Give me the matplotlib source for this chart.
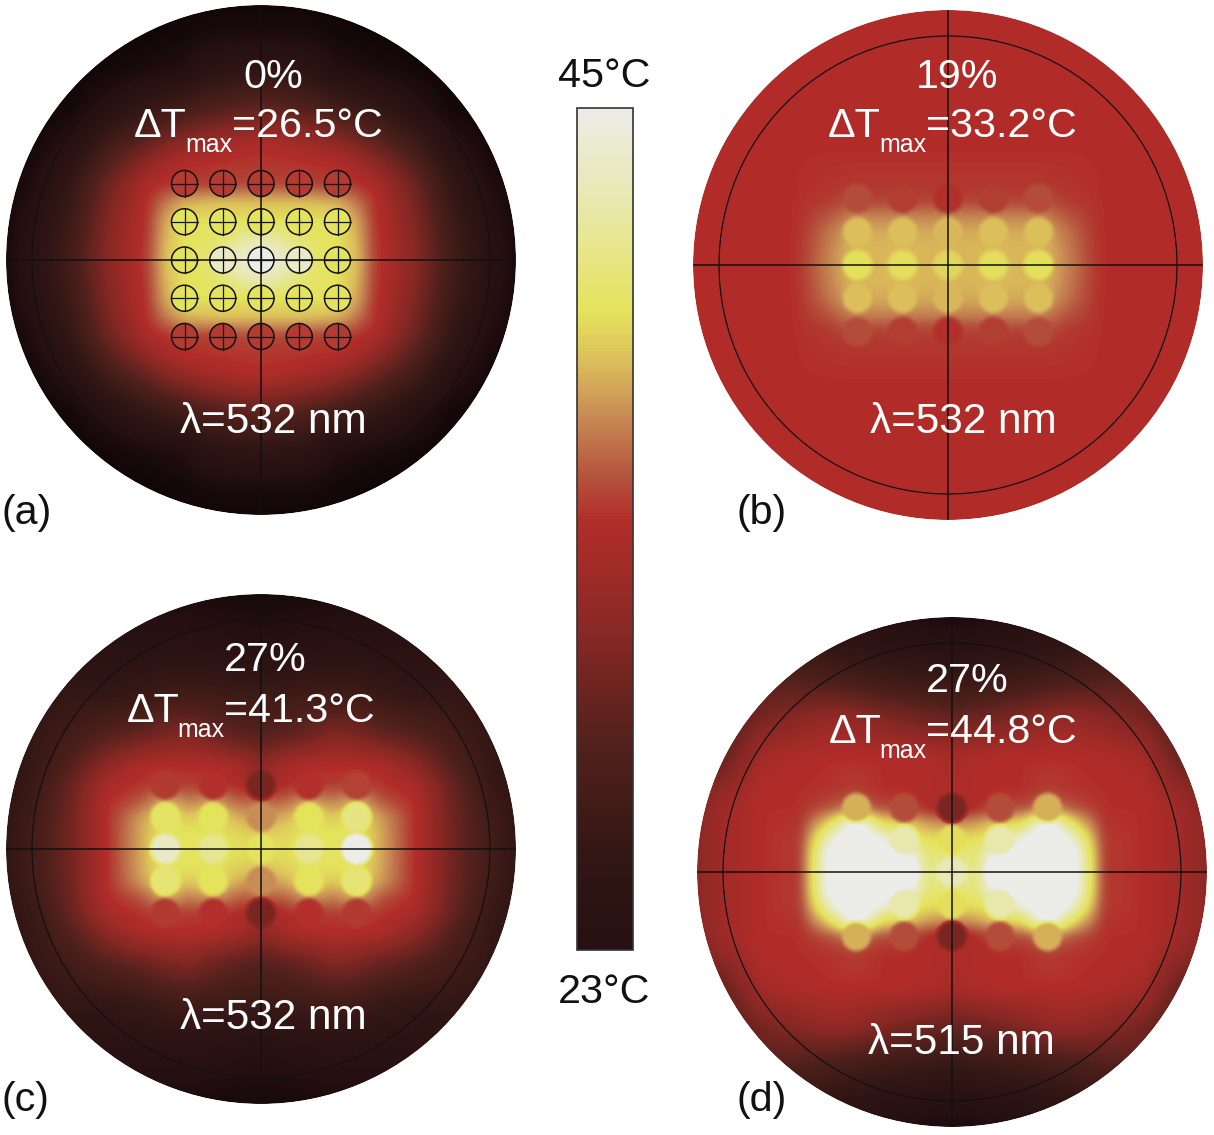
import numpy as np
import matplotlib
matplotlib.use('Agg')
import matplotlib.pyplot as plt
from matplotlib.cm import ScalarMappable
from matplotlib.colors import LinearSegmentedColormap, Normalize
from matplotlib.patches import Circle

W, H = 1214, 1135
plt.rcParams['font.family'] = ['Liberation Sans', 'DejaVu Sans']

# colour scale, the rims of the discs go a bit below the bar minimum
t_low = 21
t_min = 23
t_max = 45
scale_temps = [21, 23, 25.2, 28.35, 31.25, 34.2, 35.3, 37, 38.4, 39.7, 42.4, 45]
scale_colors = ['#0f0505', '#261012', '#301614', '#52211c', '#872824', '#b22d2a', '#b4503c',
                '#c88c55', '#dcbe5a', '#e4e35c', '#e8e8aa', '#ececE8']

# node positions of one quadrant, in disc radii
nodes_a = [0, .075, .15, .225, .3, .375, .45, .6, .75, .9, 1.05]
nodes_x = [0, .094, .188, .282, .376, .47, .6, .75, .9, 1.05]
nodes_y = [0, .0635, .127, .19, .254, .32, .45, .6, .75, .9, 1.05]

# temperature, one quadrant, rows from the centre line outwards
# the white areas are above the scale maximum, the scale saturates there
field_a = [
    [45, 44.3, 42, 40.2, 39.7, 38.5, 34.8, 31.5, 27, 24, 21],
    [43, 42, 40.5, 39.9, 39.7, 38.2, 34.7, 31.3, 26.8, 23.8, 21],
    [39.7, 39.7, 39.7, 39.7, 39.7, 37.8, 34.5, 31, 26.5, 23.5, 21],
    [38.5, 38.5, 38.5, 38.3, 38, 36.5, 34.3, 30.5, 26, 23, 21],
    [34.9, 34.9, 34.8, 34.7, 34.6, 34.4, 33.6, 29.8, 25.5, 22.5, 21],
    [34.5, 34.5, 34.4, 34.3, 34.2, 33.2, 31.8, 28.5, 24.5, 22, 21],
    [34, 33.8, 33.4, 32.8, 32, 31, 29.6, 27, 23.5, 21.5, 21],
    [29, 28.8, 28.3, 27.8, 27, 26.3, 25.5, 23.5, 21.5, 21, 21],
    [25, 24.9, 24.6, 24, 22.8, 22.5, 22.2, 21.5, 21, 21, 21],
    [22, 22, 22, 21.8, 21.5, 21.3, 21, 21, 21, 21, 21],
    [21, 21, 21, 21, 21, 21, 21, 21, 21, 21, 21],
]
field_b = [
    [38.2, 38.2, 38.4, 38.2, 38.4, 36.8, 34.2, 34.2, 34.2, 34.2],
    [38.2, 38.2, 38.3, 38.2, 38.3, 36.6, 34.2, 34.2, 34.2, 34.2],
    [37.9, 37.9, 38, 37.9, 38, 36.3, 34.2, 34.2, 34.2, 34.2],
    [36.8, 36.8, 36.8, 36.8, 36.8, 35.5, 34.2, 34.2, 34.2, 34.2],
    [35, 34.8, 35, 34.8, 35.2, 34.6, 34.2, 34.2, 34.2, 34.2],
    [34.5, 34.5, 34.5, 34.5, 34.5, 34.4, 34.2, 34.2, 34.2, 34.2],
    [34.2, 34.2, 34.2, 34.2, 34.2, 34.2, 34.2, 34.2, 34.2, 34.2],
    [34.2, 34.2, 34.2, 34.2, 34.2, 34.2, 34.2, 34.2, 34.2, 34.2],
    [34.2, 34.2, 34.2, 34.2, 34.2, 34.2, 34.2, 34.2, 34.2, 34.2],
    [34.2, 34.2, 34.2, 34.2, 34.2, 34.2, 34.2, 34.2, 34.2, 34.2],
    [34.2, 34.2, 34.2, 34.2, 34.2, 34.2, 34.2, 34.2, 34.2, 34.2],
]
field_c = [
    [39.7, 39.5, 40, 39.7, 40.5, 37.8, 34.4, 30, 27, 24.5],
    [38.8, 39.2, 39.7, 39.7, 40, 37.8, 34.4, 30, 27, 24.5],
    [37, 38, 39.7, 38.8, 39.7, 37.5, 34.4, 30, 26.8, 24.5],
    [36, 35.8, 37.5, 36.5, 38, 35.5, 34.2, 29.8, 26.5, 24.5],
    [32.5, 34, 34.6, 34.6, 34.8, 34.4, 33.5, 29.5, 26, 24.3],
    [32, 33.5, 34.2, 34.2, 34.2, 34, 32, 28.5, 25.8, 24.2],
    [28.5, 29, 29.8, 31, 30.5, 29.5, 28.5, 27, 25.5, 24],
    [26.5, 26.6, 26.8, 27, 26.8, 26, 25.5, 25.5, 25, 24],
    [24, 24.2, 24.4, 24.5, 24.5, 24.3, 24.2, 24.2, 24, 23.5],
    [22.5, 22.6, 22.8, 23, 23, 23, 23, 23, 23, 23],
    [21.5, 21.5, 21.5, 21.5, 21.5, 21.5, 21.5, 22, 22, 22],
]
field_d = [
    [43, 41, 48, 50, 50, 47, 34.6, 34.2, 33, 31],
    [41, 40.5, 47, 49, 50, 47, 34.6, 34.2, 33, 31],
    [39.8, 39.7, 41, 45, 49, 44.5, 34.6, 34.2, 33, 31],
    [37, 37.5, 39, 39.8, 46, 40, 34.4, 34.2, 33, 31],
    [33, 34, 35, 35.2, 36.5, 35.5, 34.2, 34.2, 32.8, 30.5],
    [33.8, 34, 34.2, 34.2, 34.8, 34.4, 34.2, 34.2, 32, 30],
    [33.5, 34, 34.2, 34.2, 34.2, 34.2, 34, 33.2, 29.5, 28],
    [29.5, 30, 30.5, 31.2, 32, 32.3, 31.5, 30.5, 28, 27],
    [26, 26.3, 26.5, 26.8, 27.3, 27.8, 28.5, 28.5, 27, 26],
    [23.5, 23.7, 24, 24.3, 24.7, 25, 25.5, 26, 25.5, 25],
    [21.5, 21.7, 22, 22.2, 22.5, 23, 23.5, 24, 24, 24],
]

# particle temperatures, top row first
spots_a = [
    [34.6, 34.6, 34.6, 34.6, 34.6],
    [39.7, 39.7, 39.7, 39.7, 39.7],
    [39.8, 43.5, 45, 43.5, 39.8],
    [39.7, 39.7, 39.7, 39.7, 39.7],
    [34.6, 34.6, 34.6, 34.6, 34.6],
]
spots_b = [
    [35.2, 34.7, 34.3, 34.7, 35.2],
    [38.4, 38.4, 38.2, 38.4, 38.4],
    [39.6, 39.5, 39.2, 39.5, 39.6],
    [38.4, 38.4, 38.2, 38.4, 38.4],
    [35.2, 34.7, 34.3, 34.7, 35.2],
]
spots_c = [
    [34.6, 34.3, 30.5, 34.3, 34.8],
    [40, 39.7, 37, 39.7, 41],
    [43.5, 41.5, 39.7, 41.5, 46],
    [40.5, 39.7, 37, 39.7, 40.5],
    [34.6, 34.3, 30.5, 34.3, 34.6],
]
spots_d = [
    [38, 35.2, 30.5, 35.2, 38],
    [47, 42.5, 39.5, 42.5, 47],
    [48, 47, 43, 47, 48],
    [47, 42.5, 39.5, 42.5, 47],
    [38, 35.2, 30.5, 35.2, 38],
]

# particle columns and rows, in disc radii
cols_a = [-.3, -.15, 0, .15, .3]
rows_a = [.3, .15, 0, -.15, -.3]
cols_b = [-.356, -.178, 0, .178, .356]
rows_b = [.262, .131, 0, -.131, -.262]
cols_c = [-.376, -.188, 0, .188, .376]
rows_c = [.252, .126, 0, -.126, -.252]

labels = ['(a)', '(b)', '(c)', '(d)']
percents = ['0%', '19%', '27%', '27%']
delta_t = ['=26.5°C', '=33.2°C', '=41.3°C', '=44.8°C']
wavelengths = ['λ=532 nm', 'λ=532 nm', 'λ=532 nm', 'λ=515 nm']

cmap = LinearSegmentedColormap.from_list(
    'heat', [((t - t_low) / (t_max - t_low), c) for t, c in zip(scale_temps, scale_colors)])
bar_cmap = LinearSegmentedColormap.from_list(
    'bar', [((t - t_min) / (t_max - t_min), c) for t, c in zip(scale_temps[1:], scale_colors[1:])])
norm = Normalize(t_low, t_max)

R = 255
fig = plt.figure(figsize=(W / 100, H / 100), dpi=100, facecolor='white')


def put(x, y, s, size=29.7, color='white', ha='left', va='baseline'):
    fig.text(x / W, 1 - y / H, s, fontsize=size, color=color, ha=ha, va=va)


def blur(f, n):
    # box filter along both axes, only for the smooth look of the thermal map
    k = np.ones(n) / n
    f = np.pad(f, n, mode='edge')
    f = np.apply_along_axis(np.convolve, 0, f, k, mode='same')
    f = np.apply_along_axis(np.convolve, 1, f, k, mode='same')
    return f[n:-n, n:-n]


def draw_disc(cx, cy, xn, yn, field, cols, rows, spots, crisp=False):
    ax = fig.add_axes([(cx - R - 2) / W, 1 - (cy + R + 2) / H, (2 * R + 4) / W, (2 * R + 4) / H])
    lim = (R + 2) / R
    ax.set_xlim(-lim, lim)
    ax.set_ylim(-lim, lim)
    ax.axis('off')

    xn = np.array(xn)
    yn = np.array(yn)
    xs = np.concatenate([-xn[:0:-1], xn])
    ys = np.concatenate([-yn[:0:-1], yn])
    f = np.array(field, dtype=float)
    f = np.concatenate([f[:0:-1], f], axis=0)
    f = np.concatenate([f[:, :0:-1], f], axis=1)

    # resample the nodes to screen resolution
    gx = np.linspace(-lim, lim, 2 * R + 4)
    tmp = np.array([np.interp(gx, xs, line) for line in f])
    img = np.array([np.interp(gx, ys, tmp[:, i]) for i in range(len(gx))]).T
    img = blur(blur(img, 11), 9)

    if not crisp:
        gxx, gyy = np.meshgrid(gx, gx)
        for row, line in zip(rows, spots):
            for col, val in zip(cols, line):
                img[(gxx - col) ** 2 + (gyy - row) ** 2 < .058 ** 2] = val
        img = blur(blur(img, 5), 3)

    im = ax.imshow(img, origin='lower', extent=(-lim, lim, -lim, lim), cmap=cmap, norm=norm,
                   aspect='auto', interpolation='bilinear')
    im.set_clip_path(Circle((0, 0), 1, transform=ax.transData))

    if crisp:
        for row, line in zip(rows, spots):
            for col, val in zip(cols, line):
                ax.add_patch(Circle((col, row), .051, fc=cmap(norm(val)), ec='#111111', lw=1.1, zorder=3))
                ax.plot([col - .051, col + .051], [row, row], color='#111111', lw=0.9, zorder=4)
                ax.plot([col, col], [row - .051, row + .051], color='#111111', lw=0.9, zorder=4)

    ax.plot([-1, 1], [0, 0], color='#111111', lw=1.1, zorder=5)
    ax.plot([0, 0], [-1, 1], color='#111111', lw=1.1, zorder=5)
    ax.add_patch(Circle((0, 0), .898, fc='none', ec='#111111', lw=0.9, zorder=5))
    # white ring hides the jagged image clip
    ax.add_patch(Circle((0, 0), 1.004, fc='none', ec='white', lw=1.5, zorder=6))


draw_disc(261, 260, nodes_a, nodes_a, field_a, cols_a, rows_a, spots_a, crisp=True)
draw_disc(948, 265, nodes_x, nodes_y, field_b, cols_b, rows_b, spots_b)
draw_disc(261, 849, nodes_x, nodes_y, field_c, cols_c, rows_c, spots_c)
draw_disc(952, 872, nodes_x, nodes_y, field_d, cols_c, rows_c, spots_d)

# colour bar
cax = fig.add_axes([577 / W, 1 - 950 / H, 56 / W, 842 / H])
cb = fig.colorbar(ScalarMappable(norm=Normalize(t_min, t_max), cmap=bar_cmap), cax=cax, ticks=[])
cb.outline.set_edgecolor('#333333')
cb.outline.set_linewidth(1.2)
put(604, 87, '45°C', color='#111111', ha='center')
put(604, 1003, '23°C', color='#111111', ha='center')

# panel texts: percent centre, delta T left, subscript left, rest left, baselines
text_pos = [
    (273, 88, 134, 137, 185, 152, 232, 273, 433, 2, 524),
    (957, 88, 828, 137, 879, 152, 926, 963, 433, 737, 524),
    (265, 671, 127, 722, 177, 737, 224, 273, 1029, 2, 1111),
    (967, 692, 829, 743, 879, 758, 926, 961, 1054, 737, 1111),
]
for i, p in enumerate(text_pos):
    put(p[0], p[1], percents[i], ha='center')
    put(p[2], p[3], 'ΔT')
    put(p[4], p[5], 'max', size=18)
    put(p[6], p[3], delta_t[i])
    put(p[7], p[8], wavelengths[i], size=30.4, ha='center')
    put(p[9], p[10], labels[i], color='#111111')

fig.savefig('out.png', dpi=100)
